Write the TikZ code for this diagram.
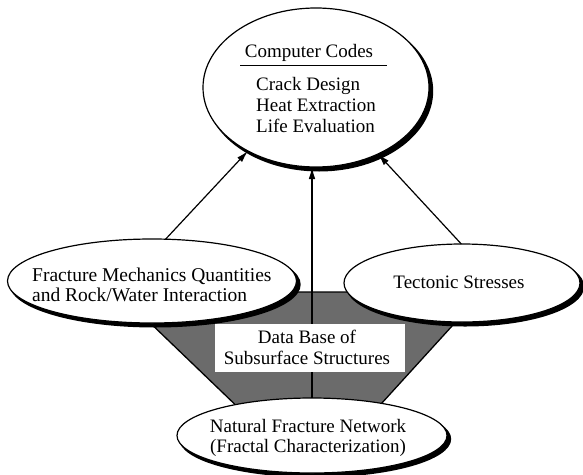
\documentclass[tikz,border=0pt]{standalone}
\usepackage{fontspec}
\setmainfont{Liberation Serif}
\usetikzlibrary{shapes.geometric,arrows.meta}
\pgfdeclarelayer{bg}
\pgfdeclarelayer{mid}
\pgfsetlayers{bg,mid,main}
\begin{document}
\begin{tikzpicture}[x=1pt,y=-1pt,
  oval/.style={ellipse,draw=black,line width=1.2pt,fill=white,inner sep=0pt,outer sep=0pt},
  ovalshadow/.style={ellipse,fill=black,draw=none,inner sep=0pt,outer sep=0pt},
  txt/.style={font=\fontsize{19}{21}\selectfont,inner sep=0pt},
  arr/.style={line width=1.2pt,-{Latex[length=12pt,width=6.5pt]}},
  hatch/.style={fill=black!58,draw=black,line width=1.3pt}]
\useasboundingbox (0,0) rectangle (583,474);

% shadows (heavier lower-right rims)
\node[ovalshadow,minimum width=228pt,minimum height=161pt] (ccs) at (319.2,91) {};
\node[ovalshadow,minimum width=291pt,minimum height=86pt] (fms) at (155.2,284.5) {};
\node[ovalshadow,minimum width=238pt,minimum height=80pt] (tss) at (465.2,286.5) {};
\node[ovalshadow,minimum width=272pt,minimum height=77pt] (nfs) at (315.2,439) {};

% ellipses
\node[oval,minimum width=226pt,minimum height=159pt] (cc) at (316,87.5) {};
\node[oval,minimum width=289pt,minimum height=84pt] (fm) at (152,281) {};
\node[oval,minimum width=236pt,minimum height=78pt] (ts) at (462,283) {};
\node[oval,minimum width=270pt,minimum height=75pt] (nf) at (312,435.5) {};

% data base box
\node[fill=white,minimum width=190pt,minimum height=48pt,inner sep=0pt] (db) at (310,348) {};

% texts
\node[txt,anchor=base] (cct) at (309,57) {Computer Codes};
\coordinate (ul1) at (240,65);
\coordinate (ul2) at (387,65);
\draw[line width=0.9pt] (ul1) -- (ul2);
\node[txt,anchor=base west,align=left] (ccl) at (256,132) {Crack Design\\Heat Extraction\\Life Evaluation};
\node[txt,anchor=base west,align=left,font=\fontsize{19.5}{20}\selectfont] (fmt) at (32,301) {Fracture Mechanics Quantities\\and Rock/Water Interaction};
\node[txt,anchor=base] (tst) at (459,288) {Tectonic Stresses};
\node[txt,anchor=base,align=center,font=\fontsize{19}{20}\selectfont] (nft) at (308,452) {Natural Fracture Network\\(Fractal Characterization)};
\node[txt,anchor=base,align=center] (dbt) at (307,364) {Data Base of\\Subsurface Structures};

% hatched trapezoid behind
\begin{pgfonlayer}{bg}
\coordinate (t1) at (118,292);
\coordinate (t2) at (483,292);
\coordinate (t3) at (371,415);
\coordinate (t4) at (246,415);
\draw[hatch] (t1) -- (t2) -- (t3) -- (t4) -- cycle;
\end{pgfonlayer}

% central arrow (behind box)
\begin{pgfonlayer}{mid}
\draw[arr] (nf.north) -- (nf.north |- cc.south);
\end{pgfonlayer}

% side arrows
\draw[arr] (fm.72.8) -- (cc.223.5);
\draw[arr] (ts.91.5) -- (cc.-47);
\end{tikzpicture}
\end{document}
